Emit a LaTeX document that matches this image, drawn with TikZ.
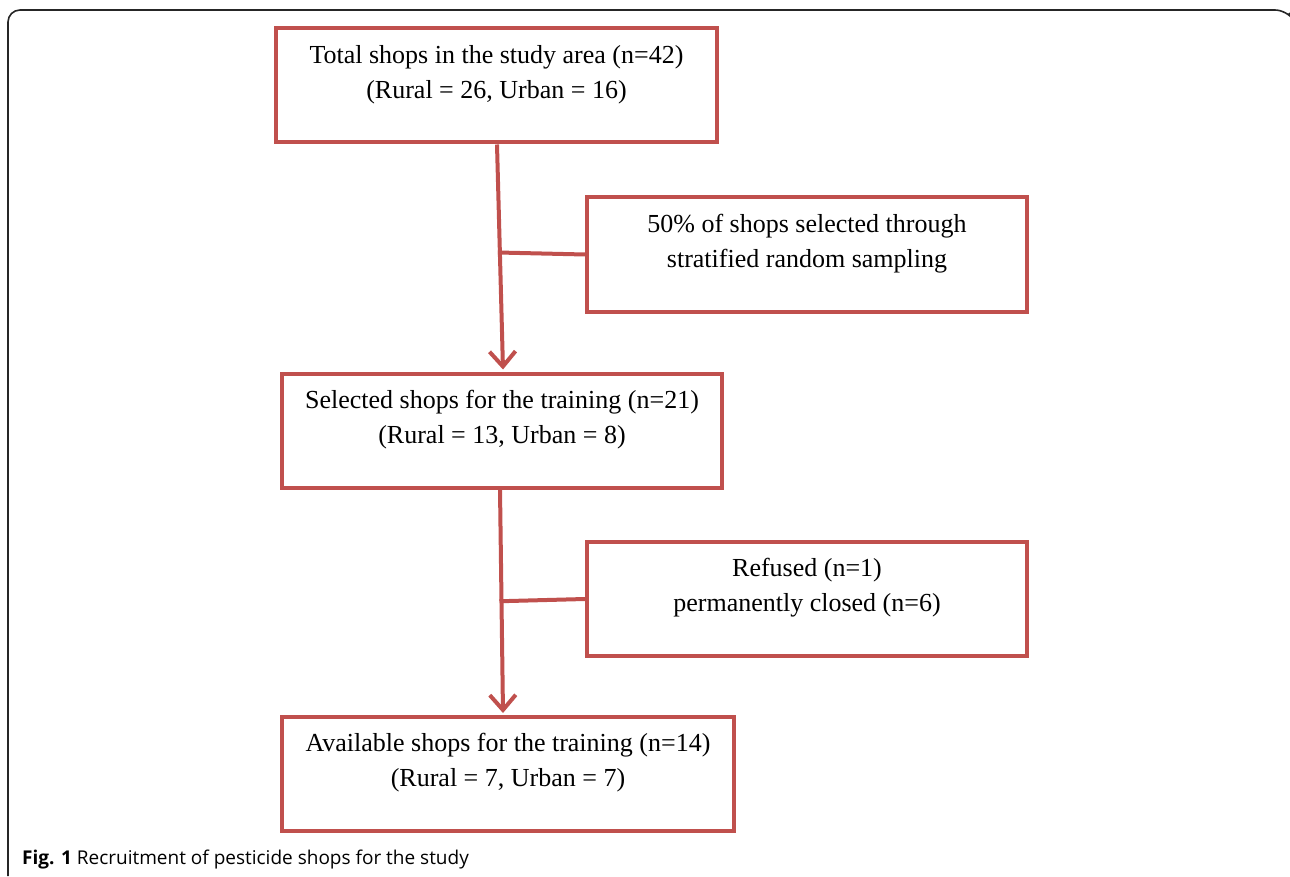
\documentclass[tikz,border=0pt]{standalone}
\usepackage{fontspec}
\setmainfont{Liberation Serif}
\newfontfamily\capfont{Open Sans}
\usetikzlibrary{arrows.meta,calc}
\definecolor{boxred}{RGB}{192,80,77}
\begin{document}
\begin{tikzpicture}[x=1pt,y=-1pt,
  box/.style={draw=boxred, line width=4pt, minimum width=#1, minimum height=114pt, inner sep=0pt},
  txt/.style={align=center, font=\fontsize{26}{35}\selectfont, inner sep=0pt},
  conn/.style={draw=boxred, line width=4pt},
  arr/.style={conn, -{Straight Barb[length=15pt,width=26pt,line width=4pt]}}]
\useasboundingbox (0,0) rectangle (1290,877);
% outer frame
\draw[line width=1.6pt, black!85, rounded corners=12pt] (8,876) -- (8,10) -- (1287,10) -- (1289,13);
% boxes
\node[box=441pt] (b1) at (496.5,85.5) {};
\node[box=440pt] (b2) at (807,254.5) {};
\node[box=440pt] (b3) at (502,430.5) {};
\node[box=440pt] (b4) at (807,599) {};
\node[box=452pt] (b5) at (508,774) {};
% texts
\node[txt] (t1) at ($(b1.center)+(0,-11)$) {Total shops in the study area (n=42)\\(Rural = 26, Urban = 16)};
\node[txt] (t2) at ($(b2.center)+(0,-11)$) {50\% of shops selected through\\stratified random sampling};
\node[txt] (t3) at ($(b3.center)+(0,-11)$) {Selected shops for the training (n=21)\\(Rural = 13, Urban = 8)};
\node[txt] (t4) at ($(b4.center)+(0,-11)$) {Refused (n=1)\\permanently closed (n=6)};
\node[txt] (t5) at ($(b5.center)+(0,-11)$) {Available shops for the training (n=14)\\(Rural = 7, Urban = 7)};
% connectors
\coordinate (s1) at ($(b1.south)+(0.5,0)$);
\coordinate (e1) at ($(b3.north)+(1,-2)$);
\draw[arr] (s1) -- (e1);
\coordinate (m1) at ($(s1)!0.48!(e1)$);
\draw[conn] ($(m1)+(-2,0)$) -- (b2.west);
\coordinate (s2) at ($(b3.south)+(-2,0)$);
\coordinate (e2) at ($(b5.north)+(-5,-2)$);
\draw[arr] (s2) -- (e2);
\coordinate (m2) at ($(s2)!0.5!(e2)$);
\draw[conn] ($(m2)+(-2,0)$) -- (b4.west);
% caption
\node[anchor=base west, inner sep=0pt, font=\capfont\fontsize{19}{22}\selectfont] (cap) at (22,864) {\textbf{Fig. 1} Recruitment of pesticide shops for the study};
\end{tikzpicture}
\end{document}
